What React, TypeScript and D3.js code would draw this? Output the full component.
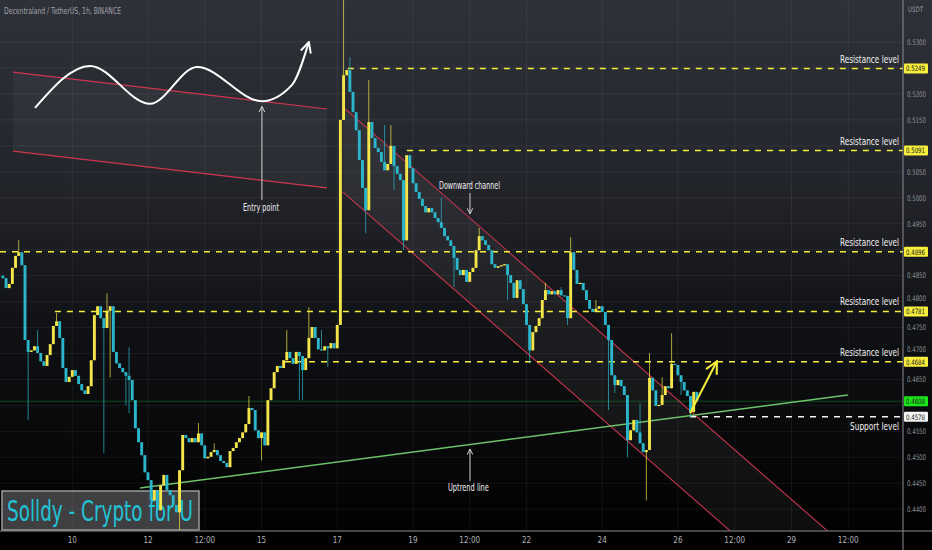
import React, { useLayoutEffect, useRef, useState } from 'react';
import * as d3 from 'd3';

const W = 932;
const H = 550;
const PLOT_R = 903;
const PLOT_B = 531;

// 2h closes, starting the 8th at 04:00
const closes = [
  0.4845, 0.4826, 0.4834, 0.4865, 0.4888, 0.4895, 0.4870, 0.4726, 0.4703, 0.4706, 0.4714, 0.4701,
  0.4685, 0.4676, 0.4697, 0.4718, 0.4753, 0.4762, 0.4730, 0.4672, 0.4645, 0.4655, 0.4668, 0.4657,
  0.4641, 0.4629, 0.4622, 0.4637, 0.4687, 0.4774, 0.4791, 0.4768, 0.4749, 0.4782, 0.4791, 0.4703,
  0.4681, 0.4672, 0.4664, 0.4657, 0.4649, 0.4610, 0.4556, 0.4529, 0.4504, 0.4471, 0.4456, 0.4417,
  0.4437, 0.4398, 0.4446, 0.4466, 0.4437, 0.4427, 0.4408, 0.4394, 0.4475, 0.4543, 0.4537, 0.4529,
  0.4537, 0.4529, 0.4546, 0.4523, 0.4498, 0.4501, 0.4510, 0.4514, 0.4504, 0.4493, 0.4489, 0.4481,
  0.4512, 0.4518, 0.4529, 0.4537, 0.4548, 0.4564, 0.4595, 0.4591, 0.4552, 0.4537, 0.4548, 0.4523,
  0.4610, 0.4633, 0.4664, 0.4676, 0.4672, 0.4687, 0.4703, 0.4691, 0.4680, 0.4703, 0.4695, 0.4668,
  0.4691, 0.4730, 0.4751, 0.4730, 0.4708, 0.4706, 0.4714, 0.4710, 0.4720, 0.4710, 0.4755, 0.5150,
  0.5236, 0.5246, 0.5204, 0.5165, 0.5130, 0.5073, 0.5019, 0.4976, 0.5146, 0.5115, 0.5096, 0.5088,
  0.5069, 0.5053, 0.5065, 0.5100, 0.5061, 0.5046, 0.5034, 0.4918, 0.5082, 0.5057, 0.5028, 0.5011,
  0.4998, 0.4984, 0.4972, 0.4980, 0.4972, 0.4961, 0.4953, 0.4942, 0.4926, 0.4918, 0.4907, 0.4884,
  0.4861, 0.4851, 0.4861, 0.4838, 0.4857, 0.4865, 0.4899, 0.4926, 0.4918, 0.4909, 0.4899, 0.4872,
  0.4865, 0.4868, 0.4870, 0.4872, 0.4851, 0.4836, 0.4807, 0.4841, 0.4824, 0.4795, 0.4755, 0.4706,
  0.4741, 0.4753, 0.4768, 0.4803, 0.4822, 0.4814, 0.4820, 0.4814, 0.4822, 0.4812, 0.4811, 0.4768,
  0.4895, 0.4861, 0.4834, 0.4836, 0.4822, 0.4803, 0.4786, 0.4780, 0.4786, 0.4791, 0.4780, 0.4755,
  0.4726, 0.4658, 0.4639, 0.4649, 0.4637, 0.4620, 0.4533, 0.4552, 0.4572, 0.4548, 0.4527, 0.4510,
  0.4514, 0.4653, 0.4629, 0.4599, 0.4601, 0.4620, 0.4637, 0.4633, 0.4680, 0.4678, 0.4658, 0.4645,
  0.4629, 0.4618, 0.4587, 0.4626, 0.4608,
];
const firstOpen = 0.485;
const startDay = 8 + 4 / 24;
const stepDay = 2 / 24;

// visible wicks: [candle index, high, low]
const wicks: [number, number | null, number | null][] = [
  [5, 0.4918, null], [8, null, 0.4572], [11, 0.4745, null], [17, 0.4778, null],
  [32, null, 0.4508], [33, 0.4816, null], [34, null, 0.4654], [39, null, 0.46],
  [40, 0.4712, 0.4585], [49, null, 0.4379], [56, null, 0.436], [62, 0.4566, null],
  [67, 0.4527, null], [78, 0.4618, null], [82, null, 0.4494], [90, 0.4745, null],
  [94, null, 0.461], [95, null, 0.461], [97, 0.4789, null], [101, 0.4745, null],
  [103, null, 0.4674], [108, 0.54, null], [110, 0.5271, null], [115, null, 0.4932],
  [116, 0.5227, null], [121, 0.514, null], [123, 0.514, null], [124, null, 0.5015],
  [127, null, 0.4899], [129, 0.5073, null], [139, 0.5001, null], [143, null, 0.4828],
  [151, 0.4942, null], [160, null, 0.4803], [167, null, 0.4681], [172, 0.4836, null],
  [177, 0.4828, null], [179, null, 0.4755], [180, 0.4924, null], [188, 0.4803, null],
  [192, null, 0.4591], [194, null, 0.4624], [198, null, 0.45], [202, 0.4604, null],
  [204, null, 0.4417], [205, 0.4701, null], [209, 0.4654, null], [212, 0.4739, null],
  [215, null, 0.462], [218, null, 0.4578],
];

const priceTicks = [0.44, 0.445, 0.45, 0.455, 0.46, 0.465, 0.47, 0.475, 0.48, 0.485, 0.49, 0.495, 0.5, 0.505, 0.51, 0.515, 0.52, 0.525, 0.53];
const timeTicks = [10, 12, 13.5, 15, 17, 19, 20.5, 22, 24, 26, 27.5, 29, 30.5];
const timeLabels = ['10', '12', '12:00', '15', '17', '19', '12:00', '22', '24', '26', '12:00', '29', '12:00'];

const resistance = [0.5249, 0.5091, 0.4896, 0.4781, 0.4684];
const resistanceFrom = [17.28, 18.84, 8.09, 9.54, 15.62];
const support = 0.4578;
const supportFrom = 26.32;
const lastPrice = 0.4608;

const uptrend: [number, number][] = [[11.79, 0.4441], [30.49, 0.462]];
const channelUpper: [number, number][] = [[17.15, 0.5175], [30, 0.4355]];
const channelLower: [number, number][] = [[17.15, 0.5011], [30, 0.4191]];
const sketchUpper: [number, number][] = [[8.433, 0.5242], [16.73, 0.5171]];
const sketchLower: [number, number][] = [[8.433, 0.509], [16.73, 0.5019]];
const sketchCurve: [number, number][] = [
  [9.015, 0.5173], [10.468, 0.5254], [12.053, 0.5181], [13.295, 0.5252],
  [15.01, 0.5186], [15.8, 0.5217], [16.25, 0.53],
];
const entryArrow: [number, number][] = [[15.01, 0.4996], [15.01, 0.5176]];
const channelArrow: [number, number][] = [[20.507, 0.5009], [20.507, 0.4969]];
const uptrendArrow: [number, number][] = [[20.507, 0.4454], [20.507, 0.4516]];
const targetArrow: [number, number][] = [[26.32, 0.4585], [27.03, 0.4685]];

const UP = '#f3e54a';
const DOWN = '#2bb6cb';
const LEVEL = '#f5ee3a';
const FONT = '"DejaVu Sans Condensed", "Liberation Sans Narrow", "Open Sans", sans-serif';

// text squeezed horizontally to a given width (the labels use a narrow font)
function FitText({ x, y, width, anchor = 'start', children, ...rest }: any) {
  const ref = useRef<SVGTextElement>(null);
  const [k, setK] = useState(0.75);
  useLayoutEffect(() => {
    if (!ref.current) return;
    const len = ref.current.getComputedTextLength();
    if (len > 0) setK(width / len);
  }, [width, children]);
  return (
    <g transform={`translate(${x},${y}) scale(${k},1)`}>
      <text ref={ref} textAnchor={anchor} {...rest}>
        {children}
      </text>
    </g>
  );
}

export default function App() {
  const x = d3.scaleLinear().domain([8.09, 31.947]).range([0, PLOT_R]);
  const y = d3.scaleLinear().domain([0.4358, 0.5381]).range([PLOT_B, 0]);
  const line = d3.line<[number, number]>().x((d) => x(d[0])).y((d) => y(d[1]));
  const curve = d3.line<[number, number]>().x((d) => x(d[0])).y((d) => y(d[1])).curve(d3.curveMonotoneX);

  const wickMap = new Map(wicks.map((w) => [w[0], w]));
  const candles = closes.map((c, i) => {
    const o = i === 0 ? firstOpen : closes[i - 1];
    const w = wickMap.get(i);
    const hi = Math.max(o, c, w && w[1] != null ? w[1] : -1);
    const lo = Math.min(o, c, w && w[2] != null ? w[2] : 9);
    return { day: startDay + i * stepDay, o, c, hi, lo };
  });

  // axis labels: hide those under a badge, nudge those that touch one
  const badgeYs = [...resistance, lastPrice, support].map((b) => y(b));
  const tickLabels = priceTicks
    .map((t) => {
      const ty = y(t);
      const near = badgeYs.reduce((a, b) => (Math.abs(b - ty) < Math.abs(a - ty) ? b : a), -1000);
      const dy = ty - near;
      if (Math.abs(dy) < 8) return null;
      const pos = Math.abs(dy) < 13 ? near + Math.sign(dy) * 13 : ty;
      return { t, pos };
    })
    .filter((d): d is { t: number; pos: number } => d !== null);

  const band = (a: [number, number][], b: [number, number][]) =>
    `M${x(a[0][0])},${y(a[0][1])}L${x(a[1][0])},${y(a[1][1])}L${x(b[1][0])},${y(b[1][1])}L${x(b[0][0])},${y(b[0][1])}Z`;

  const badge = (v: number, fill: string, key: string) => (
    <g key={key}>
      <rect x={PLOT_R + 1} y={y(v) - 5} width={24} height={10} fill={fill} rx={1} />
      <text x={PLOT_R + 3} y={y(v) + 2.8} fontSize={7.4} fill="#222" textLength={19} lengthAdjust="spacingAndGlyphs">
        {v.toFixed(4)}
      </text>
    </g>
  );

  return (
    <div style={{ position: 'absolute', left: 0, top: 0 }}>
      <svg width={W} height={H} style={{ display: 'block', fontFamily: FONT }}>
        <defs>
          <linearGradient id="bg" x1="0" y1="0" x2="0" y2="1">
            <stop offset="0" stopColor="#2e3139" />
            <stop offset="0.35" stopColor="#22242a" />
            <stop offset="0.6" stopColor="#101114" />
            <stop offset="1" stopColor="#000" />
          </linearGradient>
          <clipPath id="plot">
            <rect x={0} y={0} width={PLOT_R} height={PLOT_B} />
          </clipPath>
          <marker id="arrW" viewBox="0 0 10 10" refX={9} refY={5} markerWidth={7} markerHeight={7} markerUnits="userSpaceOnUse" orient="auto">
            <path d="M1,1L9,5L1,9" fill="none" stroke="#d8d8d8" strokeWidth={1.4} />
          </marker>
          <marker id="arrC" viewBox="0 0 10 10" refX={9} refY={5} markerWidth={13} markerHeight={13} markerUnits="userSpaceOnUse" orient="auto">
            <path d="M1,1L9,5L1,9" fill="none" stroke="#fff" strokeWidth={1.5} />
          </marker>
          <marker id="arrY" viewBox="0 0 10 10" refX={9} refY={5} markerWidth={15} markerHeight={15} markerUnits="userSpaceOnUse" orient="auto">
            <path d="M1,1L9,5L1,9" fill="none" stroke={LEVEL} strokeWidth={1.4} />
          </marker>
        </defs>

        <rect width={W} height={H} fill="url(#bg)" />

        {/* grid */}
        <g stroke="#ffffff" strokeOpacity={0.06}>
          {priceTicks.map((t) => (
            <line key={t} x1={0} x2={PLOT_R} y1={y(t)} y2={y(t)} />
          ))}
          {timeTicks.map((t) => (
            <line key={t} x1={x(t)} x2={x(t)} y1={0} y2={PLOT_B} />
          ))}
        </g>

        {/* watermark */}
        <rect x={2} y={491} width={197} height={39} fill="#8a8a8e" fillOpacity={0.45} stroke="#9c9c9c" strokeWidth={1.5} />
        <text x={7} y={521} fontSize={29} fill="#22c3d6" textLength={186} lengthAdjust="spacingAndGlyphs">
          Solldy - Crypto for U
        </text>

        {/* sketch of breakout */}
        <path d={band(sketchUpper, sketchLower)} fill="#ffffff" fillOpacity={0.04} />
        <path d={line(sketchUpper) ?? ''} stroke="#d0364e" strokeWidth={1.2} fill="none" />
        <path d={line(sketchLower) ?? ''} stroke="#d0364e" strokeWidth={1.2} fill="none" />
        <path d={curve(sketchCurve) ?? ''} stroke="#fff" strokeWidth={2} fill="none" markerEnd="url(#arrC)" />

        <g clipPath="url(#plot)">
          {/* downward channel */}
          <path d={band(channelUpper, channelLower)} fill="#ffffff" fillOpacity={0.05} />
          <path d={line(channelUpper) ?? ''} stroke="#c8344c" strokeWidth={1.1} fill="none" />
          <path d={line(channelLower) ?? ''} stroke="#c8344c" strokeWidth={1.1} fill="none" />

          {/* levels */}
          {resistance.map((v, i) => (
            <line key={v} x1={x(resistanceFrom[i])} x2={PLOT_R} y1={y(v)} y2={y(v)} stroke={LEVEL} strokeWidth={1.6} strokeDasharray="6 6" />
          ))}
          <line x1={x(supportFrom)} x2={PLOT_R} y1={y(support)} y2={y(support)} stroke="#f2f2f2" strokeWidth={1.6} strokeDasharray="6 6" />
          <line x1={0} x2={PLOT_R} y1={y(lastPrice)} y2={y(lastPrice)} stroke="#1fbf3a" strokeOpacity={0.35} strokeWidth={1} />

          {/* uptrend */}
          <path d={line(uptrend) ?? ''} stroke="#6cc36a" strokeWidth={1.5} fill="none" />

          {/* candles */}
          {candles.map((d, i) => {
            const cx = x(d.day);
            const col = d.c >= d.o ? UP : DOWN;
            const top = y(Math.max(d.o, d.c));
            const bot = y(Math.min(d.o, d.c));
            return (
              <g key={i}>
                <line x1={cx} x2={cx} y1={y(d.hi)} y2={y(d.lo)} stroke={col} strokeOpacity={0.7} strokeWidth={1} />
                <rect x={cx - 1.45} y={top} width={2.9} height={Math.max(1.2, bot - top)} fill={col} />
              </g>
            );
          })}

          {/* target arrow */}
          <path d={line(targetArrow) ?? ''} stroke={LEVEL} strokeWidth={2} fill="none" markerEnd="url(#arrY)" />
        </g>
        <path d={line(entryArrow) ?? ''} stroke="#cfcfcf" strokeWidth={1} fill="none" markerEnd="url(#arrW)" />
        <path d={line(channelArrow) ?? ''} stroke="#cfcfcf" strokeWidth={1} fill="none" markerEnd="url(#arrW)" />
        <path d={line(uptrendArrow) ?? ''} stroke="#cfcfcf" strokeWidth={1} fill="none" markerEnd="url(#arrW)" />

        {/* labels */}
        <g fill="#f0f0f0" fontSize={11}>
          {resistance.map((v) => (
            <FitText key={v} x={899} y={y(v) - 6} width={59} anchor="end">
              Resistance level
            </FitText>
          ))}
          <FitText x={899} y={y(support) + 13} width={49} anchor="end">
            Support level
          </FitText>
          <FitText x={243} y={211} width={36}>Entry point</FitText>
          <FitText x={439} y={189} width={61}>Downward channel</FitText>
          <FitText x={448} y={491} width={41}>Uptrend line</FitText>
        </g>

        {/* title */}
        <text x={4} y={14} fontSize={8.5} fill="#a0a2a8" textLength={117} lengthAdjust="spacingAndGlyphs">
          Decentraland / TetherUS, 1h, BINANCE
        </text>

        {/* axes */}
        <line x1={PLOT_R} x2={PLOT_R} y1={0} y2={H} stroke="#8a8c92" strokeWidth={1} />
        <line x1={0} x2={W} y1={PLOT_B} y2={PLOT_B} stroke="#8a8c92" strokeWidth={1} />
        <text x={908} y={12} fontSize={7.5} fill="#9a9ca2" textLength={15} lengthAdjust="spacingAndGlyphs">USDT</text>
        {tickLabels.map((d) => (
          <text key={d.t} x={907} y={d.pos + 2.8} fontSize={7.6} fill="#8f9197" textLength={19} lengthAdjust="spacingAndGlyphs">
            {d.t.toFixed(4)}
          </text>
        ))}
        {timeTicks.map((t, i) => (
          <text key={i} x={x(t)} y={543} fontSize={8} fill="#b0b2b8" textAnchor="middle">
            {timeLabels[i]}
          </text>
        ))}

        {/* price badges */}
        {resistance.map((v) => badge(v, '#f7ef3c', 'r' + v))}
        {badge(lastPrice, '#19e619', 'last')}
        {badge(support, '#f4f4f4', 'sup')}
      </svg>
    </div>
  );
}
